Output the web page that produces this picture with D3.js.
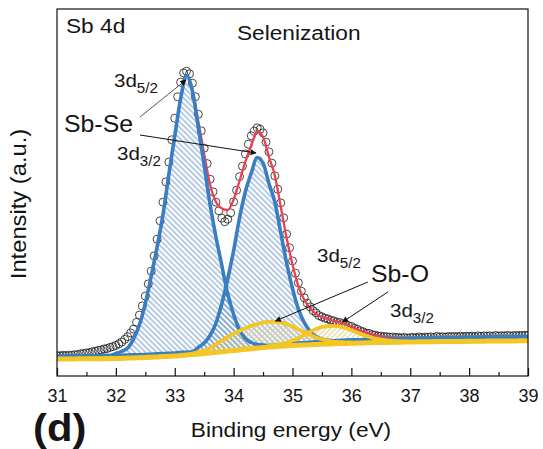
<!DOCTYPE html>
<html>
<head>
<meta charset="utf-8">
<script src="https://cdn.jsdelivr.net/npm/d3@7"></script>
<style>
  body { margin: 0; background: #fff; }
  svg text { font-family: "Liberation Sans", Arial, sans-serif; fill: #151515; }
</style>
</head>
<body>
<svg id="chart" width="543" height="449"></svg>
<script>
// ---- Sb 4d core-level spectrum after selenization ----

// measured spectrum: intensity (a.u.) every 0.05 eV from 31.00 to 39.00 eV
const measuredStart = 31.0, measuredStep = 0.05;
const measured = [
  205,201,208,203,209,206,213,214,221,225,231,234,243,247,256,261,271,275,286,294,
  306,321,339,366,394,431,469,536,609,701,799,921,1049,1201,1368,1552,1738,1941,2139,2362,
  2578,2792,2938,3031,3048,3022,2928,2793,2617,2452,2278,2124,1968,1842,1738,1652,1578,1543,1568,1632,
  1742,1858,1993,2098,2221,2318,2402,2448,2482,2468,2431,2338,2242,2128,2002,1868,1731,1582,1419,1282,
  1151,1028,932,848,782,728,692,653,631,604,592,578,571,558,552,538,536,523,517,503,
  496,478,467,453,442,428,426,413,409,400,399,393,394,388,390,384,387,381,386,379,
  384,386,382,391,383,389,388,392,386,396,390,393,389,395,393,396,391,399,392,398,
  396,399,394,402,397,401,399,402,397,405,400,403,401,406,400,405,403,406,404,407,
  405
];

// fit grid: every 0.1 eV from 31.0 to 39.0 eV
const gridStart = 31.0, gridStep = 0.1, gridCount = 81;

// background under the Sb-Se doublet
const bgSbSe = [
  200,200,201,201,202,202,203,203,204,204,
  205,207,209,211,213,215,218,221,224,227,
  230,234,238,242,246,250,255,260,265,270,
  275,280,285,290,295,300,305,310,315,320,
  325,329,333,337,341,345,348,351,354,357,
  360,362,363,365,366,368,369,371,372,374,
  375,376,377,378,379,380,381,382,383,384,
  385,386,387,388,389,390,391,392,393,394,
  395
];
// background under the Sb-O doublet
const bgSbO = [
  170,170,171,171,172,172,173,173,174,174,
  175,177,179,181,183,185,188,191,194,197,
  200,205,210,215,220,225,231,237,243,249,
  255,261,267,273,279,285,289,293,297,301,
  305,308,310,313,315,318,320,322,324,326,
  328,329,331,332,334,335,336,337,338,339,
  340,341,342,342,343,344,345,345,346,346,
  347,348,348,349,349,350,350,351,351,352,
  352
];

// fitted components (height above their background), 0.1 eV steps
const sbSe52Start = 32.0;
const sbSe52 = [20,40,70,160,300,510,780,1070,1390,1790,2170,2540,2770,2610,2240,1860,1460,1130,840,550,340,180,90,45,20,10,0];
const sbSe32Start = 33.4;
const sbSe32 = [40,80,150,270,460,700,980,1300,1560,1740,1890,1830,1620,1430,1120,810,550,340,200,110,55,25,10,0];
const sbO52Start = 33.3;
const sbO52 = [10,20,30,50,80,110,140,170,190,210,230,240,250,255,250,240,220,190,160,130,100,70,50,35,20,15,10,5];
const sbO32Start = 34.6;
const sbO32 = [10,15,20,30,50,70,100,130,155,170,180,180,170,155,130,105,80,60,40,30,20,15,10,5,0];

// envelope drawn over the fitted window
const envelopeFrom = 31.9, envelopeTo = 37.0;

// axis ticks
const xMajorTicks = [31, 32, 33, 34, 35, 36, 37, 38, 39];
const xMinorTicks = [31.5, 32.5, 33.5, 34.5, 35.5, 36.5, 37.5, 38.5];

// ---- layout ----
const svg = d3.select("#chart");
const plot = { left: 57, right: 528, top: 9, bottom: 376 };

const x = d3.scaleLinear().domain([31, 39]).range([plot.left, plot.right]);
const y = d3.scaleLinear().domain([0, 3670]).range([plot.bottom, plot.top]);

const colors = {
  blue: "#3a7dc2",
  blueHatch: "#5d8dc2",
  red: "#ec3f52",
  yellow: "#f3c623",
  yellowHatch: "#d8c57e"
};

// hatch patterns
const defs = svg.append("defs");
function hatch(id, angle, color, gap, width) {
  const p = defs.append("pattern")
    .attr("id", id)
    .attr("patternUnits", "userSpaceOnUse")
    .attr("width", gap).attr("height", gap)
    .attr("patternTransform", `rotate(${angle})`);
  p.append("line")
    .attr("x1", gap / 2).attr("y1", -1)
    .attr("x2", gap / 2).attr("y2", gap + 1)
    .attr("stroke", color).attr("stroke-width", width);
}
hatch("hatchBlue", -45, colors.blueHatch, 3.9, 0.9);
hatch("hatchYellow", 45, colors.yellowHatch, 3.6, 0.9);

defs.append("marker")
  .attr("id", "arrowHead")
  .attr("viewBox", "0 0 10 10")
  .attr("refX", 9).attr("refY", 5)
  .attr("markerWidth", 7).attr("markerHeight", 6)
  .attr("markerUnits", "userSpaceOnUse")
  .attr("orient", "auto")
  .append("path").attr("d", "M0,0 L10,5 L0,10 Z").attr("fill", "#111");

defs.append("clipPath").attr("id", "plotClip")
  .append("rect")
  .attr("x", plot.left).attr("y", plot.top)
  .attr("width", plot.right - plot.left).attr("height", plot.bottom - plot.top);

// ---- series on the fit grid ----
const gridE = d3.range(gridCount).map(i => +(gridStart + i * gridStep).toFixed(2));
function onGrid(values, start) {
  return gridE.map(e => {
    const k = Math.round((e - start) / gridStep);
    return (k >= 0 && k < values.length) ? values[k] : 0;
  });
}
const compSe52 = onGrid(sbSe52, sbSe52Start);
const compSe32 = onGrid(sbSe32, sbSe32Start);
const compO52 = onGrid(sbO52, sbO52Start);
const compO32 = onGrid(sbO32, sbO32Start);

const line = d3.line().x(d => x(d[0])).y(d => y(d[1])).curve(d3.curveMonotoneX);
const area = d3.area().x(d => x(d[0])).y0(d => y(d[1])).y1(d => y(d[2])).curve(d3.curveMonotoneX);

function stacked(bg, comp) {
  return gridE.map((e, i) => [e, bg[i], bg[i] + comp[i]]);
}
const se52 = stacked(bgSbSe, compSe52);
const se32 = stacked(bgSbSe, compSe32);
const o52 = stacked(bgSbO, compO52);
const o32 = stacked(bgSbO, compO32);

const envelope = gridE
  .map((e, i) => [e, bgSbSe[i] + compSe52[i] + compSe32[i] + compO52[i] + compO32[i]])
  .filter(d => d[0] >= envelopeFrom - 1e-9 && d[0] <= envelopeTo + 1e-9);

const g = svg.append("g").attr("clip-path", "url(#plotClip)");

// hatched component areas
[se52, se32].forEach(s => {
  g.append("path").attr("d", area(s)).attr("fill", "url(#hatchBlue)");
});
[o52, o32].forEach(s => {
  g.append("path").attr("d", area(s)).attr("fill", "url(#hatchYellow)");
});

// measured points
const measuredPts = measured.map((v, i) => [measuredStart + i * measuredStep, v]);
g.append("g").selectAll("circle").data(measuredPts).join("circle")
  .attr("cx", d => x(d[0])).attr("cy", d => y(d[1]))
  .attr("r", 4)
  .attr("fill", "none")
  .attr("stroke", "#1a1a1a")
  .attr("stroke-width", 0.8);

// envelope
g.append("path").attr("d", line(envelope))
  .attr("fill", "none").attr("stroke", colors.red).attr("stroke-width", 2.3);

// Sb-Se components
[se52, se32].forEach(s => {
  g.append("path").attr("d", line(s.map(d => [d[0], d[2]])))
    .attr("fill", "none").attr("stroke", colors.blue).attr("stroke-width", 3.6)
    .attr("stroke-linejoin", "round");
});

// Sb-O components and their background
g.append("path").attr("d", line(gridE.map((e, i) => [e, bgSbO[i]])))
  .attr("fill", "none").attr("stroke", colors.yellow).attr("stroke-width", 5);
[o52, o32].forEach(s => {
  g.append("path").attr("d", line(s.map(d => [d[0], d[2]])))
    .attr("fill", "none").attr("stroke", colors.yellow).attr("stroke-width", 3.8)
    .attr("stroke-linejoin", "round");
});

// ---- frame and ticks ----
svg.append("rect")
  .attr("x", plot.left).attr("y", plot.top)
  .attr("width", plot.right - plot.left).attr("height", plot.bottom - plot.top)
  .attr("fill", "none").attr("stroke", "#111").attr("stroke-width", 1.2);

const xAxis = d3.axisBottom(x).tickValues(xMajorTicks).tickSizeInner(-8).tickSizeOuter(0).tickFormat(d3.format("d"));
const axG = svg.append("g").attr("transform", `translate(0,${plot.bottom})`).call(xAxis);
axG.select(".domain").remove();
axG.selectAll(".tick line").attr("stroke", "#111").attr("stroke-width", 1.2);
axG.selectAll(".tick text")
  .attr("font-family", "Liberation Sans, Arial, sans-serif")
  .attr("font-size", 18).attr("fill", "#151515")
  .attr("dy", null).attr("y", 26);

const minorG = svg.append("g").attr("transform", `translate(0,${plot.bottom})`)
  .call(d3.axisBottom(x).tickValues(xMinorTicks).tickSizeInner(-4).tickSizeOuter(0).tickFormat(""));
minorG.select(".domain").remove();
minorG.selectAll(".tick line").attr("stroke", "#111").attr("stroke-width", 1.2);

// ---- text ----
const sx = 1.08;
function label(txt, px, py, size, anchor) {
  return svg.append("text")
    .attr("transform", `translate(${px},${py}) scale(${sx},1)`)
    .attr("font-size", size)
    .attr("text-anchor", anchor || "start")
    .text(txt);
}
function orbital(level, sub, px, py) {
  const t = svg.append("text")
    .attr("transform", `translate(${px},${py}) scale(${sx},1)`)
    .attr("font-size", 19);
  t.append("tspan").text(level);
  t.append("tspan").attr("font-size", 14).attr("dy", 6).text(sub);
}

label("Sb 4d", 66, 33, 21);
label("Selenization", 237, 40, 21);
label("Sb-Se", 64, 132, 23);
label("Sb-O", 371, 282, 23);
orbital("3d", "5/2", 114, 87);
orbital("3d", "3/2", 117, 160);
orbital("3d", "5/2", 317, 262);
orbital("3d", "3/2", 390, 317);

label("Binding energy (eV)", 291, 437, 21, "middle");
svg.append("text")
  .attr("transform", `translate(26,204) rotate(-90) scale(${sx},1)`)
  .attr("font-size", 22).attr("text-anchor", "middle")
  .text("Intensity (a.u.)");
svg.append("text")
  .attr("transform", `translate(33,441) scale(1.1,1)`)
  .attr("font-size", 38).attr("font-weight", "bold")
  .text("(d)");

// ---- annotation arrows (data coordinates) ----
const arrows = [
  { from: [32.41, 2590], to: [33.19, 2960], color: "#555" },
  { from: [32.41, 2410], to: [34.38, 2230], color: "#111" },
  { from: [36.28, 940], to: [34.71, 550], color: "#111" },
  { from: [36.62, 840], to: [35.85, 540], color: "#111" }
];
svg.append("g").selectAll("line").data(arrows).join("line")
  .attr("x1", d => x(d.from[0])).attr("y1", d => y(d.from[1]))
  .attr("x2", d => x(d.to[0])).attr("y2", d => y(d.to[1]))
  .attr("stroke", d => d.color).attr("stroke-width", 1)
  .attr("marker-end", "url(#arrowHead)");
</script>
</body>
</html>
